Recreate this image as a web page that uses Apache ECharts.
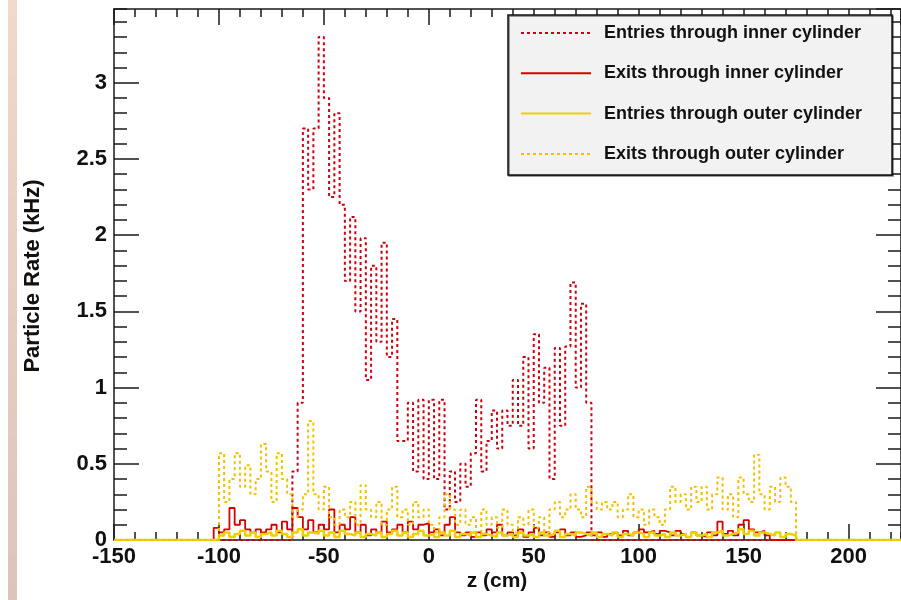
<!DOCTYPE html>
<html>
<head>
<meta charset="utf-8">
<script src="https://cdn.jsdelivr.net/npm/echarts@6/dist/echarts.min.js"></script>
<style>
html,body{margin:0;padding:0;background:#fff;}
#chart{width:901px;height:600px;}
</style>
</head>
<body>
<div id="chart"></div>
<script>
// ---- data (histograms, 2.5 cm bins) ----
const zMin = -150, zMax = 225, binWidth = 2.5;
const yMax = 3.484;
const seriesNames = ['Entries through inner cylinder','Exits through inner cylinder','Entries through outer cylinder','Exits through outer cylinder'];

const entriesInnerStart = -65;
const entriesInner = [0.45,0.9,2.7,2.3,2.7,3.3,2.9,2.25,2.8,2.2,
  1.7,2.12,1.5,1.98,1.05,1.8,1.3,1.95,1.2,1.45,
  0.65,0.65,0.9,0.45,0.92,0.4,0.92,0.4,0.92,0.2,
  0.45,0.25,0.5,0.35,0.57,0.92,0.45,0.65,0.85,0.6,
  0.85,0.75,1.05,0.75,1.2,0.6,1.35,0.9,1.13,0.4,
  1.26,0.75,1.27,1.69,1.0,1.55,0.9];

const exitsInnerStart = -102.5;
const exitsInner = [0.08,0.05,0.07,0.21,0.1,0.13,0.07,0.05,0.07,0.05,
  0.07,0.1,0.05,0.12,0.07,0.21,0.15,0.07,0.13,0.05,
  0.1,0.07,0.2,0.05,0.1,0.07,0.15,0.05,0.1,0.03,
  0.07,0.05,0.12,0.05,0.07,0.1,0.05,0.12,0.07,0.1,
  0.11,0.05,0.07,0.03,0.1,0.15,0.05,0.03,0.05,0.02,
  0.05,0.03,0.07,0.05,0.1,0.03,0.05,0.03,0.07,0.02,
  0.05,0.08,0.03,0.05,0.02,0.05,0.07,0.03,0.05,0.02,
  0.03,0.05,0.03,0.05,0.02,0.04,0.05,0.03,0.06,0.03,
  0.05,0.07,0.05,0.06,0.04,0.06,0.05,0.03,0.06,0.04,
  0.02,0.05,0.03,0.02,0.05,0.03,0.12,0.04,0.06,0.03,
  0.1,0.13,0.07,0.05,0.06,0.03];

const entriesOuterStart = -100;
const entriesOuter = [0.03,0.05,0.02,0.04,0.06,0.03,0.05,0.02,0.04,0.05,
  0.03,0.06,0.04,0.02,0.05,0.07,0.03,0.05,0.04,0.06,
  0.03,0.05,0.02,0.06,0.04,0.03,0.05,0.02,0.04,0.03,
  0.05,0.02,0.04,0.06,0.03,0.05,0.02,0.04,0.06,0.03,
  0.04,0.02,0.05,0.03,0.06,0.02,0.04,0.03,0.05,0.02,
  0.04,0.03,0.02,0.05,0.03,0.04,0.02,0.05,0.03,0.04,
  0.02,0.05,0.03,0.04,0.06,0.02,0.04,0.03,0.05,0.04,
  0.03,0.05,0.02,0.04,0.03,0.05,0.02,0.04,0.03,0.05,
  0.04,0.02,0.05,0.03,0.04,0.02,0.05,0.03,0.04,0.02,
  0.05,0.03,0.04,0.02,0.05,0.06,0.03,0.04,0.05,0.07,
  0.04,0.06,0.03,0.05,0.04,0.03,0.05,0.02,0.04,0.03];

const exitsOuterStart = -100;
const exitsOuter = [0.57,0.25,0.4,0.57,0.35,0.49,0.3,0.4,0.63,0.45,
  0.25,0.57,0.4,0.3,0.15,0.2,0.3,0.78,0.3,0.2,
  0.35,0.15,0.1,0.2,0.15,0.25,0.1,0.36,0.2,0.15,
  0.25,0.1,0.2,0.35,0.15,0.2,0.1,0.25,0.15,0.2,
  0.1,0.05,0.15,0.3,0.2,0.1,0.2,0.1,0.15,0.05,
  0.2,0.1,0.15,0.08,0.2,0.1,0.05,0.15,0.1,0.2,
  0.08,0.15,0.05,0.2,0.25,0.15,0.2,0.3,0.2,0.15,
  0.35,0.25,0.2,0.25,0.2,0.25,0.15,0.2,0.3,0.15,
  0.2,0.1,0.2,0.15,0.1,0.2,0.35,0.25,0.3,0.2,
  0.35,0.25,0.35,0.2,0.3,0.41,0.2,0.3,0.15,0.41,
  0.3,0.25,0.56,0.3,0.2,0.35,0.25,0.41,0.35,0.25];

// ---- build step-histogram points from bins ----
function histPoints(start, vals) {
  const n = Math.round((zMax - zMin) / binWidth);
  const full = new Array(n).fill(0);
  const off = Math.round((start - zMin) / binWidth);
  vals.forEach((v, i) => { if (off + i >= 0 && off + i < n) full[off + i] = v; });
  const pts = full.map((v, k) => [zMin + k * binWidth, v]);
  pts.push([zMax, full[n - 1]]);
  return pts;
}

const FONT = '"Liberation Sans", Arial, Helvetica, sans-serif';
const AX = '#1a1a1a';
const chart = echarts.init(document.getElementById('chart'), null, {renderer: 'canvas'});

function xAx(pos, interval, len, labels, line) {
  return {
    type: 'value', min: zMin, max: zMax, interval: interval, position: pos, gridIndex: 0,
    axisLine: {show: line, onZero: false, lineStyle: {color: AX, width: 1.5}},
    axisTick: {show: true, inside: true, length: len, lineStyle: {color: AX, width: 1.5}},
    axisLabel: labels ? {show: true, margin: 6, showMaxLabel: false, color: '#111',
      fontFamily: FONT, fontWeight: 'bold', fontSize: 22} : {show: false},
    splitLine: {show: false}
  };
}
function yAx(pos, interval, len, labels, line) {
  return {
    type: 'value', min: 0, max: yMax, interval: interval, position: pos, gridIndex: 0,
    axisLine: {show: line, onZero: false, lineStyle: {color: AX, width: 1.5}},
    axisTick: {show: true, inside: true, length: len, lineStyle: {color: AX, width: 1.5}},
    axisLabel: labels ? {show: true, margin: 7, showMaxLabel: false, color: '#111',
      fontFamily: FONT, fontWeight: 'bold', fontSize: 22} : {show: false},
    splitLine: {show: false}
  };
}

const option = {
  animation: false,
  backgroundColor: '#ffffff',
  grid: {left: 114, top: 9, width: 788, height: 531, containLabel: false},
  xAxis: [
    xAx('bottom', 50, 16, true, true),
    xAx('bottom', 10, 8, false, false),
    xAx('top', 50, 16, false, true),
    xAx('top', 10, 8, false, false)
  ],
  yAxis: [
    yAx('left', 0.5, 25, true, true),
    yAx('left', 0.1, 13, false, false),
    yAx('right', 0.5, 25, false, true),
    yAx('right', 0.1, 13, false, false)
  ],
  legend: {
    orient: 'vertical', left: 508, top: 15,
    padding: [8, 30, 11, 12],
    itemWidth: 70, itemHeight: 20, itemGap: 20.3,
    backgroundColor: '#f2f2f2', borderColor: '#111', borderWidth: 1.5,
    shadowColor: 'rgba(0,0,0,0.5)', shadowOffsetX: 1, shadowOffsetY: 1, shadowBlur: 0,
    selectedMode: false,
    itemStyle: {opacity: 0, color: 'rgba(0,0,0,0)', borderWidth: 0},
    textStyle: {fontFamily: FONT, fontWeight: 'bold', fontSize: 18, color: '#111',
      lineHeight: 20, padding: [0, 0, 0, 8]},
    data: seriesNames
  },
  series: [
    {name: seriesNames[0], type: 'line', step: 'end', symbol: 'none', xAxisIndex: 0, yAxisIndex: 0,
     data: histPoints(entriesInnerStart, entriesInner),
     lineStyle: {color: '#cc0010', width: 2, type: [3, 3]}, itemStyle: {color: '#cc0010'}},
    {name: seriesNames[1], type: 'line', step: 'end', symbol: 'none', xAxisIndex: 0, yAxisIndex: 0,
     data: histPoints(exitsInnerStart, exitsInner),
     lineStyle: {color: '#d40000', width: 1.8, type: 'solid'}, itemStyle: {color: '#d40000'}},
    {name: seriesNames[2], type: 'line', step: 'end', symbol: 'none', xAxisIndex: 0, yAxisIndex: 0,
     data: histPoints(entriesOuterStart, entriesOuter),
     lineStyle: {color: '#ecd000', width: 2.5, type: 'solid'}, itemStyle: {color: '#ecd000'}},
    {name: seriesNames[3], type: 'line', step: 'end', symbol: 'none', xAxisIndex: 0, yAxisIndex: 0,
     data: histPoints(exitsOuterStart, exitsOuter),
     lineStyle: {color: '#f2c000', width: 2, type: [3, 3]}, itemStyle: {color: '#f2c000'}}
  ],
  graphic: [
    {type: 'rect', left: 8, top: 0, shape: {width: 9, height: 600}, z: -1,
     style: {fill: new echarts.graphic.LinearGradient(0, 0, 0, 1, [
       {offset: 0, color: '#f0d8ca'}, {offset: 1, color: '#dcc4bb'}])}},
    {type: 'text', x: 497, y: 581, z: 10,
     style: {text: 'z (cm)', fill: '#111', font: 'bold 21px ' + FONT, textAlign: 'center', textVerticalAlign: 'middle'}},
    {type: 'text', x: 33, y: 276, rotation: Math.PI / 2, z: 10,
     style: {text: 'Particle Rate (kHz)', fill: '#111', font: 'bold 22px ' + FONT, textAlign: 'center', textVerticalAlign: 'middle'}}
  ]
};
chart.setOption(option);
</script>
</body>
</html>
